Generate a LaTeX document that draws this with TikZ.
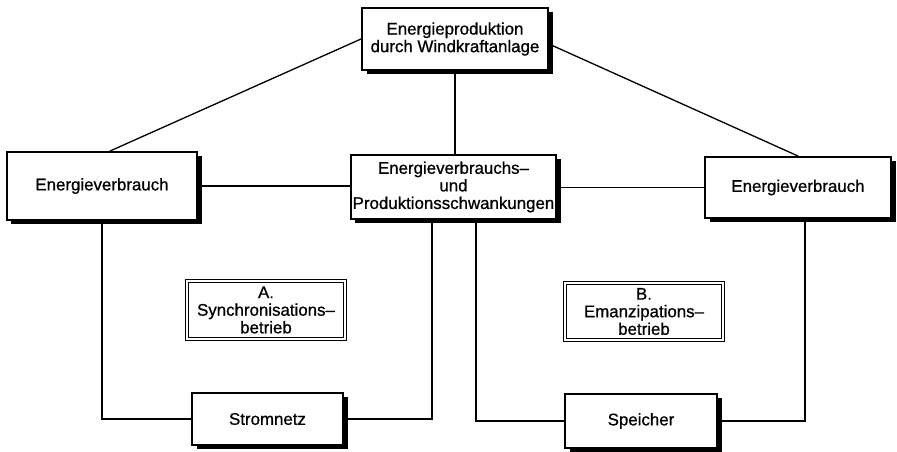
\documentclass[tikz,border=0pt]{standalone}
\usepackage{fontspec}
\setmainfont[BoldFont=Liberation Sans, BoldFeatures={FakeBold=0.8}]{Liberation Sans}
\usetikzlibrary{shadows}
\begin{document}
\begin{tikzpicture}[line cap=round,
  box/.style={draw, line width=1.1pt, fill=white, align=center,
    inner sep=1pt, font=\fontsize{9.6}{10}\selectfont\bfseries,
    drop shadow={shadow xshift=0.09cm, shadow yshift=-0.08cm, fill=black, opacity=1}},
  modebox/.style={draw, double, double distance=1.2pt, line width=0.8pt,
    fill=white, align=center, inner sep=1pt, font=\fontsize{9.6}{10}\selectfont\bfseries},
  link/.style={line width=0.75pt}]
\useasboundingbox (0,0) rectangle (17.94,9.04);
% Kaesten
\node[box, minimum width=3.72cm, minimum height=1.24cm] (prod) at (9.10,8.26)
  {Energieproduktion\\durch Windkraftanlage};
\node[box, minimum width=3.80cm, minimum height=1.36cm] (verbrL) at (2.04,5.32)
  {Energieverbrauch};
\node[box, minimum width=4.06cm, minimum height=1.28cm] (schw) at (9.07,5.30)
  {Energieverbrauchs–\\und\\Produktionsschwankungen};
\node[box, minimum width=3.72cm, minimum height=1.22cm] (verbrR) at (15.96,5.29)
  {Energieverbrauch};
\node[modebox, minimum width=3.16cm, minimum height=1.16cm] (modeA) at (5.32,2.84)
  {A.\\Synchronisations–\\betrieb};
\node[modebox, minimum width=3.16cm, minimum height=1.14cm] (modeB) at (12.88,2.81)
  {B.\\Emanzipations–\\betrieb};
\node[box, minimum width=3.02cm, minimum height=1.04cm] (netz) at (5.35,0.66)
  {Stromnetz};
\node[box, minimum width=3.04cm, minimum height=1.08cm] (speicher) at (12.82,0.62)
  {Speicher};
% Verbindungen
\draw[link] (prod.west) -- ([xshift=0.16cm]verbrL.north);
\draw[link] ([yshift=-0.1cm]prod.east) -- (verbrR.north);
\draw[link] (prod.south) -- (prod.south |- schw.north);
\draw[link] (verbrL.east) -- (verbrL.east -| schw.west);
\draw[link] (schw.east |- verbrR.west) -- (verbrR.west);
\draw[link] (verbrL.south) |- (netz.west);
\draw[link] (netz.east) -| ([xshift=-0.43cm]schw.south);
\draw[link] ([xshift=0.45cm]schw.south) |- (speicher.west);
\draw[link] (speicher.east) -| ([xshift=0.14cm]verbrR.south);
\end{tikzpicture}
\end{document}
